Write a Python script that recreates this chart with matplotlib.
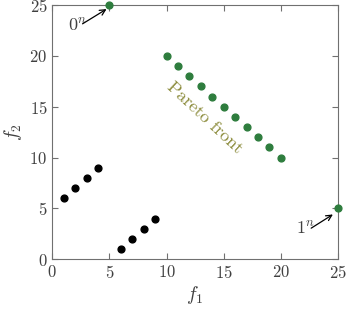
import numpy as np
import matplotlib
matplotlib.use("Agg")
import matplotlib.pyplot as plt

plt.rcParams["font.family"] = "serif"
plt.rcParams["font.serif"] = ["cmr10", "DejaVu Serif"]
plt.rcParams["mathtext.fontset"] = "cm"
plt.rcParams["axes.formatter.use_mathtext"] = True

# dominated points
dom_f1 = [1, 2, 3, 4, 6, 7, 8, 9]
dom_f2 = [6, 7, 8, 9, 1, 2, 3, 4]

# pareto front points
par_f1 = [5, 10, 11, 12, 13, 14, 15, 16, 17, 18, 19, 20, 25]
par_f2 = [25, 20, 19, 18, 17, 16, 15, 14, 13, 12, 11, 10, 5]

ticks = [0, 5, 10, 15, 20, 25]

green = "#2e7d3e"
grey = "#707070"
txt = "#404040"

fig = plt.figure(figsize=(3.46, 3.34), dpi=100)
ax = fig.add_axes([0.151, 0.224, 0.826, 0.761])

ax.scatter(dom_f1, dom_f2, s=24, color="black", zorder=3, clip_on=False)
ax.scatter(par_f1, par_f2, s=24, color=green, zorder=3, clip_on=False)

# labels for the extreme points, arrows drawn separately
ax.text(3.05, 22.9, r"$0^n$", fontsize=13, ha="right", va="center", color=txt)
ax.annotate("", xy=(4.75, 24.6), xytext=(2.65, 23.15),
            arrowprops=dict(arrowstyle="->", color="black", lw=0.9,
                            shrinkA=0, shrinkB=0))
ax.text(23.0, 3.0, r"$1^n$", fontsize=13, ha="right", va="center", color=txt)
ax.annotate("", xy=(24.55, 4.4), xytext=(22.65, 3.05),
            arrowprops=dict(arrowstyle="->", color="black", lw=0.9,
                            shrinkA=0, shrinkB=0))

ax.text(13.3, 13.9, "Pareto front", rotation=-43, color="#8c8c3c",
        fontsize=13, ha="center", va="center")

ax.set_xlim(0, 25)
ax.set_ylim(0, 25)
ax.set_xticks(ticks)
ax.set_yticks(ticks)
ax.tick_params(direction="in", top=True, right=True, colors=grey,
               labelcolor=txt, labelsize=12, length=4)
for sp in ax.spines.values():
    sp.set_color(grey)
    sp.set_linewidth(0.8)

ax.set_xlabel(r"$f_1$", fontsize=14, color=txt, labelpad=2)
ax.set_ylabel(r"$f_2$", fontsize=14, color=txt, labelpad=4)

fig.savefig("out.png", dpi=100)
